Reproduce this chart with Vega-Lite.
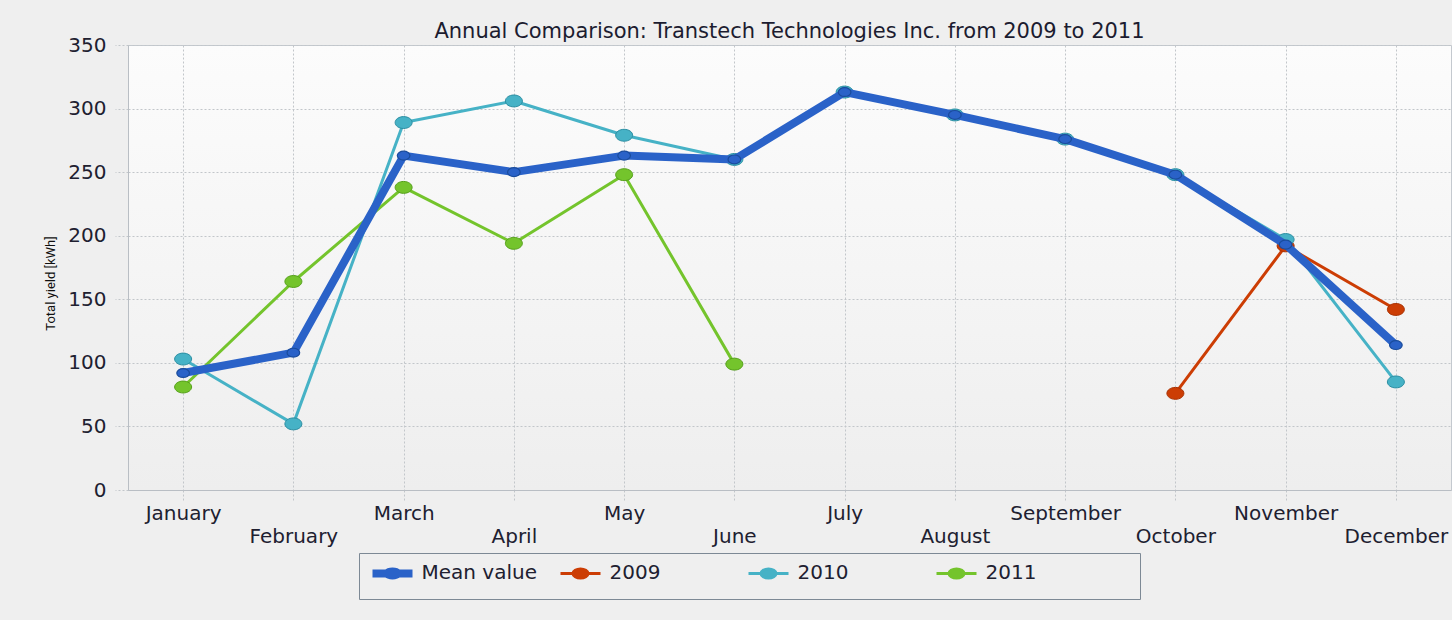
{
  "$schema": "https://vega.github.io/schema/vega-lite/v6.json",
  "width": 1323,
  "height": 445,
  "autosize": {"type": "none"},
  "padding": {"left": 128, "top": 45, "right": 1, "bottom": 130},
  "background": "#efefef",
  "title": {
    "text": "Annual Comparison: Transtech Technologies Inc. from 2009 to 2011",
    "font": "DejaVu Sans",
    "fontSize": 21,
    "fontWeight": "normal",
    "color": "#1c1c30",
    "anchor": "middle",
    "offset": -7
  },
  "config": {
    "view": {
      "stroke": "#c4c9cf",
      "fill": {"gradient": "linear", "x1": 0, "y1": 0, "x2": 0, "y2": 1,
        "stops": [{"offset": 0, "color": "#fcfcfc"}, {"offset": 1, "color": "#eeeeee"}]}
    },
    "axis": {
      "labelFont": "DejaVu Sans",
      "labelFontSize": 20,
      "labelColor": "#202030",
      "gridColor": "#c2c6ca",
      "gridDash": [2, 2],
      "tickColor": "#c2c6ca",
      "tickDash": [2, 2],
      "domainColor": "#b9bec4"
    }
  },
  "data": {
    "values": [
      {"month": "January", "series": "Mean value", "value": 92},
      {"month": "February", "series": "Mean value", "value": 108},
      {"month": "March", "series": "Mean value", "value": 263},
      {"month": "April", "series": "Mean value", "value": 250},
      {"month": "May", "series": "Mean value", "value": 263},
      {"month": "June", "series": "Mean value", "value": 260},
      {"month": "July", "series": "Mean value", "value": 313},
      {"month": "August", "series": "Mean value", "value": 295},
      {"month": "September", "series": "Mean value", "value": 276},
      {"month": "October", "series": "Mean value", "value": 248},
      {"month": "November", "series": "Mean value", "value": 193},
      {"month": "December", "series": "Mean value", "value": 114},
      {"month": "October", "series": "2009", "value": 76},
      {"month": "November", "series": "2009", "value": 192},
      {"month": "December", "series": "2009", "value": 142},
      {"month": "January", "series": "2010", "value": 103},
      {"month": "February", "series": "2010", "value": 52},
      {"month": "March", "series": "2010", "value": 289},
      {"month": "April", "series": "2010", "value": 306},
      {"month": "May", "series": "2010", "value": 279},
      {"month": "June", "series": "2010", "value": 260},
      {"month": "July", "series": "2010", "value": 313},
      {"month": "August", "series": "2010", "value": 295},
      {"month": "September", "series": "2010", "value": 276},
      {"month": "October", "series": "2010", "value": 248},
      {"month": "November", "series": "2010", "value": 197},
      {"month": "December", "series": "2010", "value": 85},
      {"month": "January", "series": "2011", "value": 81},
      {"month": "February", "series": "2011", "value": 164},
      {"month": "March", "series": "2011", "value": 238},
      {"month": "April", "series": "2011", "value": 194},
      {"month": "May", "series": "2011", "value": 248},
      {"month": "June", "series": "2011", "value": 99}
    ]
  },
  "encoding": {
    "x": {
      "field": "month",
      "type": "ordinal",
      "sort": ["January", "February", "March", "April", "May", "June", "July", "August", "September", "October", "November", "December"],
      "scale": {"type": "point", "padding": 0.5},
      "axis": {
        "title": null,
        "labelAngle": 0,
        "grid": true,
        "tickSize": 10,
        "labelPadding": 3,
        "labelLineHeight": 23,
        "labelExpr": "indexof(['February','April','June','August','October','December'], datum.value) >= 0 ? ['', datum.label] : datum.label"
      }
    },
    "y": {
      "field": "value",
      "type": "quantitative",
      "scale": {"domain": [0, 350], "nice": false},
      "axis": {
        "title": "Total yield [kWh]",
        "titleFont": "Roboto",
        "titleFontSize": 13,
        "titleFontWeight": "normal",
        "titleColor": "#101010",
        "titleX": -71,
        "titleY": 238,
        "titleAngle": -90,
        "titleAlign": "center",
        "titleBaseline": "bottom",
        "values": [0, 50, 100, 150, 200, 250, 300, 350],
        "tickSize": 13,
        "labelPadding": 9,
        "grid": true
      }
    },
    "color": {
      "field": "series",
      "type": "nominal",
      "scale": {
        "domain": ["Mean value", "2009", "2010", "2011"],
        "range": ["#2a62c8", "#cc3d04", "#46b2c6", "#74c42c"]
      },
      "legend": {
        "title": null,
        "orient": "none",
        "legendX": 231,
        "legendY": 508,
        "direction": "horizontal",
        "columns": 4,
        "gridAlign": "each",
        "columnPadding": 14,
        "padding": 10,
        "strokeColor": "#7d8995",
        "symbolSize": 289,
        "symbolOffset": 13.5,
        "labelOffset": 19,
        "labelFont": "DejaVu Sans",
        "labelFontSize": 20,
        "labelColor": "#202030",
        "encode": {
          "symbols": {
            "update": {
              "shape": {"signal": "datum.value === 'Mean value' ? 'M-2.353,0H2.353M-0.588,0A0.588,0.235 0 1,1 0.588,0A0.588,0.235 0 1,1 -0.588,0ZM17.18,0M0,-1.3M0,1.3' : datum.value === '2011' ? 'M-2.353,0H-0.882M0.882,0H2.353M-0.882,0A0.882,0.529 0 1,1 0.882,0A0.882,0.529 0 1,1 -0.882,0ZM20.17,0M0,-1.59M0,1.59' : 'M-2.353,0H-0.882M0.882,0H2.353M-0.882,0A0.882,0.529 0 1,1 0.882,0A0.882,0.529 0 1,1 -0.882,0ZM17.47,0M0,-1.59M0,1.59'"},
              "size": {"value": 289},
              "fill": {"scale": "color", "field": "value"},
              "stroke": {"scale": "color", "field": "value"},
              "strokeWidth": {"signal": "datum.value === 'Mean value' ? 8 : 3"},
              "strokeJoin": {"value": "round"},
              "opacity": {"value": 1}
            }
          }
        }
      }
    }
  },
  "layer": [
    {
      "transform": [{"filter": "datum.series !== 'Mean value'"}],
      "mark": {"type": "line", "strokeWidth": 3, "interpolate": "linear", "strokeJoin": "round"}
    },
    {
      "transform": [{"filter": "datum.series !== 'Mean value'"}],
      "mark": {"type": "point", "filled": true, "opacity": 1, "size": 289, "strokeWidth": 1,
        "shape": "M-1,0A1,0.7 0 1,1 1,0A1,0.7 0 1,1 -1,0Z"},
      "encoding": {
        "stroke": {
          "field": "series",
          "type": "nominal",
          "scale": {"domain": ["2009", "2010", "2011"], "range": ["#a83000", "#2c8ea2", "#55a01a"]},
          "legend": null
        }
      }
    },
    {
      "transform": [{"filter": "datum.series === 'Mean value'"}],
      "mark": {"type": "line", "strokeWidth": 8, "interpolate": "linear", "strokeJoin": "round"}
    },
    {
      "transform": [{"filter": "datum.series === 'Mean value'"}],
      "mark": {"type": "point", "filled": true, "opacity": 1, "size": 160, "strokeWidth": 1.2, "stroke": "#1a4c9c",
        "shape": "M-1,0A1,0.7 0 1,1 1,0A1,0.7 0 1,1 -1,0Z"}
    }
  ],
  "resolve": {"scale": {"stroke": "independent"}}
}
